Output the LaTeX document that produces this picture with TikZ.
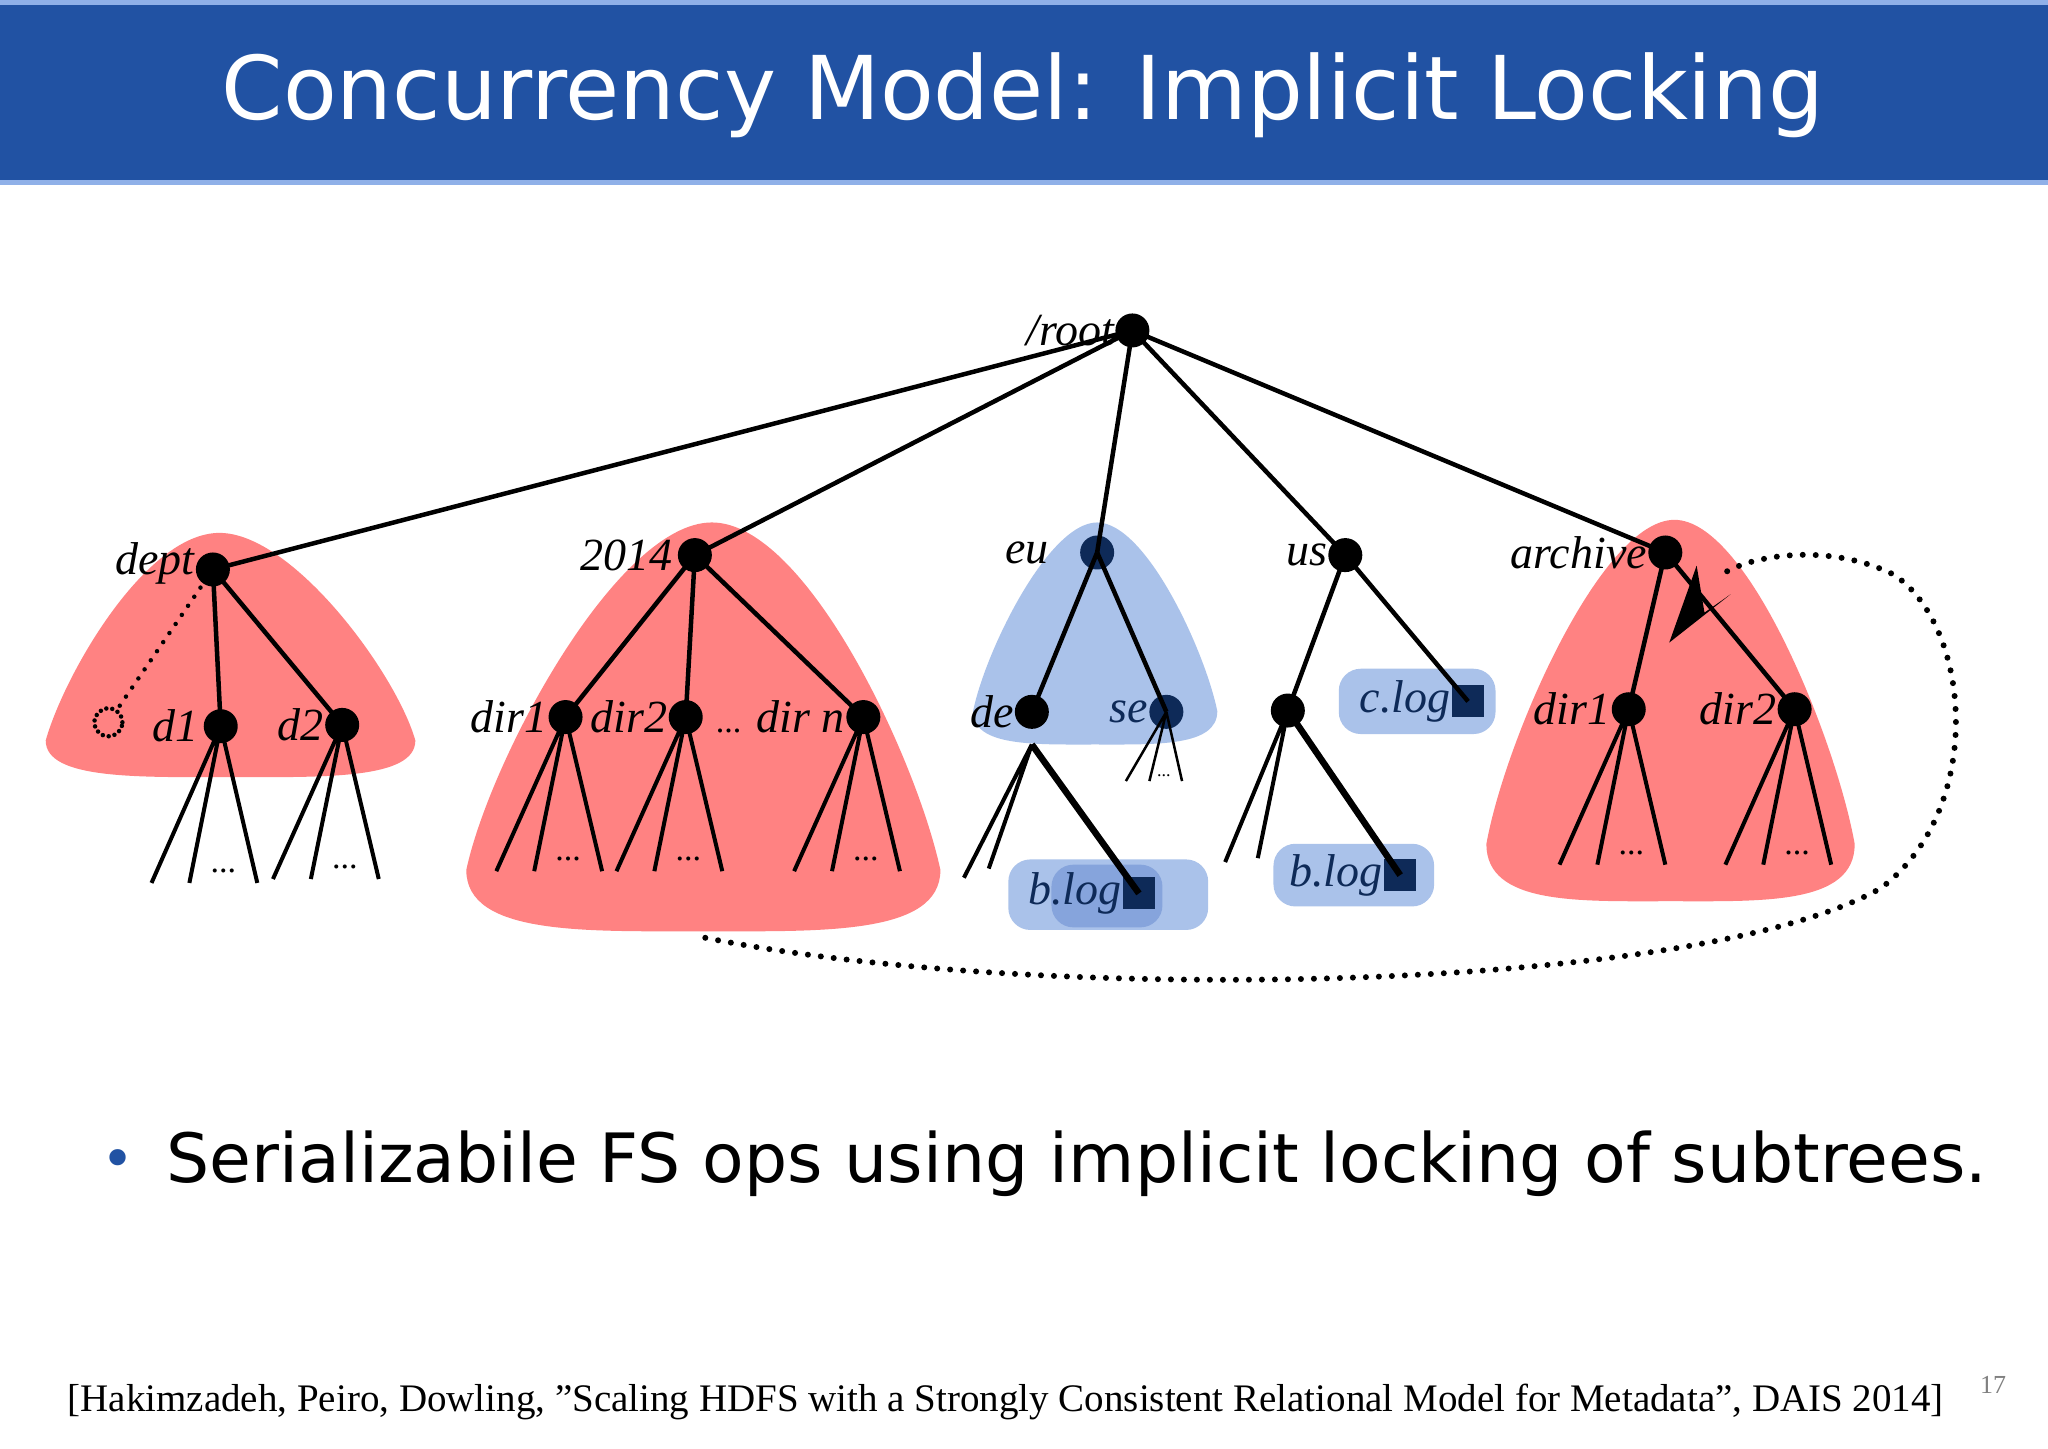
\documentclass[tikz,border=0pt]{standalone}
\usepackage{fontspec}
\setmainfont{Liberation Serif}
\newfontfamily\titlefont{DejaVu Sans}
\usetikzlibrary{arrows.meta,calc}
\definecolor{hdrblue}{HTML}{2152A3}
\definecolor{hdrlight}{HTML}{8FB0E8}
\definecolor{lockred}{HTML}{FF8282}
\definecolor{lockblue}{HTML}{AAC2EA}
\definecolor{lockblue2}{HTML}{86A4DC}
\definecolor{navy}{HTML}{0E2A58}
\newcommand{\myblob}[6]{% xl xr yt yb xt color
  \pgfmathsetmacro\bw{#2-#1}\pgfmathsetmacro\bh{#4-#3}
  \pgfmathsetmacro\bm{(#1+#2)/2}
  \fill[#6] (#5,#3) .. controls ({#5-0.2*\bw},#3) and ({#1+0.05*\bw},{#4-0.42*\bh}) .. (#1,{#4-0.15*\bh})
    .. controls (#1,{#4+0.01*\bh}) and ({#1+0.25*\bw},#4) .. (\bm,#4)
    .. controls ({#2-0.25*\bw},#4) and (#2,{#4+0.01*\bh}) .. (#2,{#4-0.15*\bh})
    .. controls ({#2-0.05*\bw},{#4-0.42*\bh}) and ({#5+0.2*\bw},#3) .. (#5,#3) -- cycle;}
\tikzset{
  dot/.style={circle,fill=black,minimum size=34pt,inner sep=0pt},
  ndot/.style={dot,fill=navy},
  sq/.style={rectangle,fill=navy,minimum size=32pt,inner sep=0pt},
  lab/.style={font=\itshape\fontsize{46}{46}\selectfont,text=black,inner sep=1pt},
  nlab/.style={lab,text=navy},
  edge/.style={line width=4.5pt},
  leaf/.style={line width=4pt},
  pill/.style={fill=lockblue,rounded corners=22pt}
}
\newcommand{\leaves}[2]{% node, dy
  \draw[leaf] (#1.center) -- ++(-53,#2) (#1.center) -- ++(-24,#2) (#1.center) -- ++(28,#2);
  \node[font=\fontsize{34}{34}\selectfont] at ($(#1.center)+(2,{#2-9})$) {...};}
\begin{document}
\begin{tikzpicture}[x=1.306pt,y=-1.306pt]
\useasboundingbox (0,0) rectangle (1568,1108.7);
\fill[white] (0,0) rectangle (1568,1108.7);
% header
\fill[hdrlight] (0,0) rectangle (1568,142);
\fill[hdrblue] (0,4) rectangle (1568,138);
\node[text=white,font=\titlefont\fontsize{88}{88}\selectfont] (title) at (783,73) {Concurrency Model: Implicit Locking};
% lock regions
\myblob{35}{318}{408}{595}{168}{lockred}
\myblob{357}{720}{400}{713}{545}{lockred}
\myblob{1138}{1420}{398}{690}{1282}{lockred}
\myblob{745}{932}{400}{570}{840}{lockblue}
\fill[pill] (1025,512) rectangle (1145,562);
\fill[pill] (975,646) rectangle (1098,694);
\fill[pill] (772,658) rectangle (925,712);
\fill[lockblue2,rounded corners=22pt] (805,662) rectangle (890,710);
% nodes
\node[dot,label={[lab]left:/root}] (root) at (867,253) {};
\node[dot,label={[lab,yshift=6pt]left:dept}] (dept) at (163,436) {};
\node[dot,label={[lab,xshift=-4pt]left:2014}] (y2014) at (532,425) {};
\node[ndot,label={[lab,xshift=-30pt]left:eu}] (eu) at (840,423) {};
\node[dot,label={[lab]left:us}] (us) at (1030,425) {};
\node[dot,label={[lab]left:archive}] (archive) at (1275,423) {};
\node[dot,label={[lab,xshift=-4pt]left:d1}] (d1) at (169,556) {};
\node[dot,label={[lab]left:d2}] (d2) at (262,555) {};
\node[circle,draw,line width=4.5pt,dash pattern=on 0pt off 6pt,line cap=round,minimum size=28pt,inner sep=0pt] (dd) at (83,553) {};
\node[dot,label={[lab]left:dir1}] (dir1) at (433,549) {};
\node[dot,label={[lab]left:dir2}] (dir2) at (525,549) {};
\node[dot,label={[lab]left:{\upshape\fontsize{34}{34}\selectfont...} dir n}] (dirn) at (661,549) {};
\node[dot,label={[lab]left:de}] (de) at (790,545) {};
\node[ndot,label={[nlab]left:se}] (se) at (893,545) {};
\node[dot] (usc) at (986,544) {};
\node[sq,label={[nlab]left:c.log}] (clog) at (1124,537) {};
\node[sq,label={[nlab]left:b.log}] (eublog) at (872,684) {};
\node[sq,label={[nlab]left:b.log}] (usblog) at (1072,670) {};
\node[dot,label={[lab]left:dir1}] (adir1) at (1247,543) {};
\node[dot,label={[lab]left:dir2}] (adir2) at (1374,543) {};
% edges
\draw[edge] (root.center) -- (dept.center) (root.center) -- (y2014.center) (root.center) -- (eu.center)
  (root.center) -- (us.center) (root.center) -- (archive.center);
\draw[edge] (dept.center) -- (d1.center) (dept.center) -- (d2.center);
\draw[line width=4.5pt,dash pattern=on 0pt off 11pt,line cap=round] (dept.center) -- (dd);
\draw[edge] (y2014.center) -- (dir1.center) (y2014.center) -- (dir2.center) (y2014.center) -- (dirn.center);
\draw[edge] (eu.center) -- (de.center) (eu.center) -- (se.center);
\draw[edge] (us.center) -- (usc.center) (us.center) -- (clog.center);
\draw[edge] (archive.center) -- (adir1.center) (archive.center) -- (adir2.center);
\leaves{d1}{120}\leaves{d2}{118}
\leaves{dir1}{118}\leaves{dir2}{118}\leaves{dirn}{118}
\leaves{adir1}{119}\leaves{adir2}{119}
\coordinate (dek) at (790,570);
\draw[leaf] (dek) -- (738,672) (dek) -- (757,665);
\draw[line width=6.5pt] (dek) -- (eublog.center);
\draw[leaf] (usc.center) -- (938,660) (usc.center) -- (963,657);
\draw[line width=6.5pt] (usc.center) -- (usblog.center);
\draw[line width=2.5pt] (se.center) -- (862,598) (se.center) -- (880,598) (se.center) -- (905,598);
\node[font=\fontsize{18}{18}\selectfont] at (891,594) {...};
% dotted move curve
\coordinate (mvs) at (540,718);
\coordinate (mve) at (1318,440);
\draw[line width=6pt,line cap=round,dash pattern=on 0pt off 13pt]
  (mvs) .. controls (800,770) and (1300,760) .. (1440,680)
  .. controls (1520,620) and (1510,480) .. (1450,440)
  .. controls (1400,415) and (1340,425) .. (mve);
\fill (1278,492) -- (1299,433) -- (1305,469) -- (1325,455) -- cycle;
% bottom texts
\node[text=hdrblue,font=\titlefont\fontsize{56}{56}\selectfont] (bul) at (90,891) {•};
\node[anchor=west,font=\titlefont\fontsize{68}{68}\selectfont] (btxt) at (125,891) {Serializabile FS ops using implicit locking of subtrees.};
\node[font=\fontsize{39}{39}\selectfont] (cite) at (770,1073) {[Hakimzadeh, Peiro, Dowling, ”Scaling HDFS with a Strongly Consistent Relational Model for Metadata”, DAIS 2014]};
\node[text=gray,font=\fontsize{26}{26}\selectfont] (pg) at (1526,1060) {17};
\end{tikzpicture}
\end{document}
